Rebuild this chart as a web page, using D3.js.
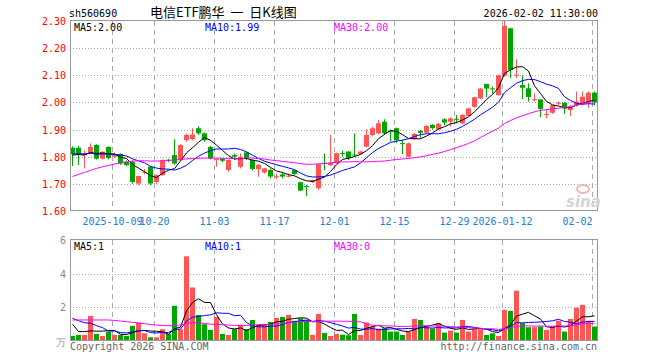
<!DOCTYPE html>
<html>
<head>
<meta charset="UTF-8">
<title>电信ETF鹏华 日K线图</title>
<style>
    body { margin: 0; background: #fff; }
    svg { display: block; }
    text { font-family: "DejaVu Sans Mono", monospace; font-size: 10px; }
</style>
</head>
<body>
<svg></svg>
<script src="https://d3js.org/d3.v7.min.js"></script>
<script>

// trading days shown
let dates = ["2025-09-22","2025-09-23","2025-09-24","2025-09-25","2025-09-26","2025-09-29","2025-09-30",
    "2025-10-09","2025-10-10","2025-10-13","2025-10-14","2025-10-15","2025-10-16","2025-10-17","2025-10-20",
    "2025-10-21","2025-10-22","2025-10-23","2025-10-24","2025-10-27","2025-10-28","2025-10-29","2025-10-30",
    "2025-10-31","2025-11-03","2025-11-04","2025-11-05","2025-11-06","2025-11-07","2025-11-10","2025-11-11",
    "2025-11-12","2025-11-13","2025-11-14","2025-11-17","2025-11-18","2025-11-19","2025-11-20","2025-11-21",
    "2025-11-24","2025-11-25","2025-11-26","2025-11-27","2025-11-28","2025-12-01","2025-12-02","2025-12-03",
    "2025-12-04","2025-12-05","2025-12-08","2025-12-09","2025-12-10","2025-12-11","2025-12-12","2025-12-15",
    "2025-12-16","2025-12-17","2025-12-18","2025-12-19","2025-12-22","2025-12-23","2025-12-24","2025-12-25",
    "2025-12-26","2025-12-29","2025-12-30","2025-12-31","2026-01-05","2026-01-06","2026-01-07","2026-01-08",
    "2026-01-09","2026-01-12","2026-01-13","2026-01-14","2026-01-15","2026-01-16","2026-01-19","2026-01-20",
    "2026-01-21","2026-01-22","2026-01-23","2026-01-26","2026-01-27","2026-01-28","2026-01-29","2026-01-30",
    "2026-02-02"];

let opens = [1.833,1.833,1.805,1.812,1.843,1.793,1.836,1.800,1.810,1.781,1.781,1.701,1.742,1.763,1.707,
    1.732,1.789,1.806,1.787,1.861,1.865,1.905,1.886,1.836,1.790,1.793,1.751,1.806,1.763,1.816,
    1.788,1.754,1.742,1.751,1.726,1.735,1.728,1.751,1.706,1.692,1.707,1.684,1.778,1.769,1.776,
    1.814,1.819,1.808,1.810,1.837,1.880,1.886,1.929,1.894,1.905,1.850,1.800,1.866,1.895,1.889,
    1.917,1.901,1.938,1.929,1.940,1.923,1.950,1.984,2.015,2.068,2.052,2.027,2.099,2.273,2.099,
    2.064,2.052,2.009,2.011,1.955,1.962,1.997,1.999,1.972,1.990,1.995,1.998,2.036];
let highs = [1.838,1.840,1.822,1.849,1.846,1.820,1.838,1.815,1.812,1.786,1.786,1.730,1.755,1.765,1.735,
    1.790,1.792,1.864,1.846,1.885,1.905,1.912,1.890,1.840,1.793,1.795,1.790,1.812,1.812,1.818,
    1.790,1.772,1.758,1.757,1.738,1.745,1.738,1.752,1.708,1.696,1.716,1.775,1.812,1.880,1.815,
    1.822,1.821,1.886,1.822,1.901,1.910,1.935,1.938,1.900,1.907,1.862,1.852,1.887,1.898,1.916,
    1.920,1.925,1.942,1.945,1.954,1.957,1.980,2.021,2.053,2.069,2.058,2.102,2.304,2.275,2.159,
    2.100,2.070,2.033,2.013,1.974,1.990,2.003,2.000,1.990,2.040,2.040,2.040,2.040];
let lows = [1.766,1.770,1.757,1.810,1.790,1.790,1.790,1.795,1.770,1.765,1.700,1.695,1.735,1.695,1.700,
    1.730,1.780,1.770,1.785,1.855,1.860,1.880,1.855,1.790,1.763,1.780,1.745,1.788,1.757,1.788,
    1.750,1.726,1.738,1.720,1.717,1.720,1.724,1.733,1.675,1.655,1.703,1.678,1.750,1.765,1.774,
    1.800,1.788,1.800,1.807,1.835,1.875,1.884,1.880,1.856,1.850,1.810,1.798,1.862,1.868,1.886,
    1.900,1.898,1.916,1.911,1.923,1.920,1.948,1.980,2.012,2.019,2.033,2.025,2.095,2.089,2.089,
    2.012,2.003,2.004,1.946,1.942,1.958,1.990,1.958,1.950,1.985,1.990,1.980,1.990];
let closes = [1.809,1.810,1.812,1.836,1.793,1.818,1.795,1.810,1.775,1.769,1.707,1.729,1.745,1.701,1.732,
    1.787,1.786,1.775,1.843,1.880,1.882,1.886,1.861,1.793,1.792,1.785,1.788,1.800,1.800,1.794,
    1.755,1.770,1.757,1.727,1.728,1.727,1.730,1.736,1.675,1.689,1.714,1.772,1.775,1.778,1.813,
    1.812,1.794,1.805,1.819,1.880,1.905,1.923,1.886,1.890,1.862,1.847,1.849,1.884,1.888,1.913,
    1.905,1.921,1.926,1.941,1.936,1.954,1.978,2.019,2.051,2.051,2.049,2.100,2.282,2.120,2.102,
    2.054,2.020,2.012,1.976,1.957,1.990,1.999,1.978,1.980,2.003,2.021,2.036,2.000];
// volume, 万手
let volumes = [0.30,0.36,0.36,1.49,0.42,0.30,0.56,0.36,0.36,0.30,0.90,1.10,0.46,0.22,0.22,
    0.70,0.42,2.09,0.70,5.03,3.18,1.55,1.00,0.66,1.43,0.42,0.36,0.70,0.96,0.70,
    1.25,0.96,0.96,1.13,1.37,1.43,1.55,1.20,1.35,1.25,0.36,1.61,0.48,0.30,0.42,
    0.38,0.34,1.61,0.36,1.10,0.86,0.74,0.76,0.56,0.56,0.36,0.56,1.31,1.25,0.86,
    0.74,1.06,0.50,0.62,0.50,1.25,0.56,0.70,0.70,0.36,0.46,0.30,1.85,1.79,2.99,
    1.06,0.82,0.82,0.86,0.66,0.86,1.20,0.56,1.31,1.98,2.15,1.20,0.86];

// days before the window, estimated from where MA5/MA10 start
let prevCloses = [1.80,1.82,1.81,1.83,1.81,1.80,1.82,1.79,1.811];
let prevVolumes = [1.8,1.6,1.7,1.9,1.5,2.56,0.36,1.29,0.49];
// MA30 for the first 29 days
let ma30Head = [1.727,1.735,1.742,1.750,1.757,1.763,1.768,1.773,1.777,1.781,1.784,1.785,1.785,1.784,1.784,
    1.785,1.786,1.788,1.790,1.792,1.793,1.794,1.795,1.795,1.795,1.794,1.794,1.793,1.792];
let volMa30Head = [1.25,1.25,1.25,1.25,1.25,1.25,1.25,1.22,1.19,1.15,1.11,1.07,1.03,0.98,0.95,
    0.92,0.90,0.92,0.95,1.05,1.10,1.08,1.05,1.00,0.99,0.97,0.95,0.93,0.92];

let tickDates = ["2025-10-09","2025-10-20","2025-11-03","2025-11-17","2025-12-01","2025-12-15","2025-12-29","2026-01-12","2026-02-02"];
let tickLabels = ["2025-10-09","10-20","11-03","11-17","12-01","12-15","12-29","2026-01-12","02-02"];
let priceTicks = [1.6,1.7,1.8,1.9,2.0,2.1,2.2,2.3];
let volTicks = [2,4,6];

let width = 660, height = 360;
let red = "#ff5555", green = "#00a600";

let svg = d3.select("svg").attr("width", width).attr("height", height);

let x = d3.scaleBand().domain(dates).range([70, 598]);
let y = d3.scaleLinear().domain([1.6, 2.3]).range([211, 21]);
let yv = d3.scaleLinear().domain([0, 6]).range([341, 240]);

function movingAvg(vals, prev, n) {
    let all = prev.concat(vals);
    return vals.map((v, i) => d3.mean(all.slice(i + prev.length - n + 1, i + prev.length + 1)));
}
function ma30(vals, head) {
    return vals.map((v, i) => i < head.length ? head[i] : d3.mean(vals.slice(i - 29, i + 1)));
}

let candles = dates.map((d, i) => ({date: d, o: opens[i], h: highs[i], l: lows[i], c: closes[i], v: volumes[i]}));

// grid
let grid = svg.append("g");
grid.selectAll(".hp").data(priceTicks.slice(1, -1)).enter().append("line")
    .attr("x1", 70).attr("x2", 597)
    .attr("y1", d => Math.round(y(d)) + 0.5).attr("y2", d => Math.round(y(d)) + 0.5)
    .attr("stroke", "#aaa").attr("stroke-dasharray", "1,2");
grid.selectAll(".hv").data(volTicks.slice(0, -1)).enter().append("line")
    .attr("x1", 70).attr("x2", 597)
    .attr("y1", d => Math.round(yv(d)) + 0.5).attr("y2", d => Math.round(yv(d)) + 0.5)
    .attr("stroke", "#aaa").attr("stroke-dasharray", "1,2");
tickDates.forEach(d => {
    let xx = x(d) + 0.5;
    grid.append("line").attr("x1", xx).attr("x2", xx).attr("y1", 21).attr("y2", 211)
        .attr("stroke", "#aaa").attr("stroke-dasharray", "5,4");
    grid.append("line").attr("x1", xx).attr("x2", xx).attr("y1", 240).attr("y2", 341)
        .attr("stroke", "#aaa").attr("stroke-dasharray", "5,4");
});

// candles
let cg = svg.append("g");
cg.selectAll(".wick").data(candles).enter().append("line")
    .attr("x1", d => x(d.date) + 2.5).attr("x2", d => x(d.date) + 2.5)
    .attr("y1", d => y(d.h)).attr("y2", d => y(d.l))
    .attr("stroke", d => d.c >= d.o ? red : green);
cg.selectAll(".body").data(candles).enter().append("rect")
    .attr("x", d => x(d.date)).attr("width", 5)
    .attr("y", d => y(Math.max(d.o, d.c)))
    .attr("height", d => Math.max(1, Math.abs(y(d.o) - y(d.c))))
    .attr("fill", d => d.c >= d.o ? red : green);

// volume bars
svg.append("g").selectAll("rect").data(candles).enter().append("rect")
    .attr("x", d => x(d.date)).attr("width", 5)
    .attr("y", d => yv(d.v)).attr("height", d => yv(0) - yv(d.v))
    .attr("fill", d => d.c >= d.o ? red : green);

// moving averages
let priceLines = [
    {vals: movingAvg(closes, prevCloses, 5), color: "#000"},
    {vals: movingAvg(closes, prevCloses, 10), color: "#0000ff"},
    {vals: ma30(closes, ma30Head), color: "#ff00ff"}
];
let volLines = [
    {vals: movingAvg(volumes, prevVolumes, 5), color: "#000"},
    {vals: movingAvg(volumes, prevVolumes, 10), color: "#0000ff"},
    {vals: ma30(volumes, volMa30Head), color: "#ff00ff"}
];
let pline = d3.line().x((d, i) => x(dates[i]) + 2.5).y(d => y(d));
let vline = d3.line().x((d, i) => x(dates[i]) + 2.5).y(d => yv(d));
priceLines.forEach(s => svg.append("path").attr("d", pline(s.vals))
    .attr("fill", "none").attr("stroke", s.color).attr("stroke-width", 1));
volLines.forEach(s => svg.append("path").attr("d", vline(s.vals))
    .attr("fill", "none").attr("stroke", s.color).attr("stroke-width", 1));

// frames
svg.append("rect").attr("x", 70.5).attr("y", 20.5).attr("width", 527).attr("height", 190)
    .attr("fill", "none").attr("stroke", "#999");
svg.append("rect").attr("x", 70.5).attr("y", 239.5).attr("width", 527).attr("height", 101)
    .attr("fill", "none").attr("stroke", "#999");

// axis labels
svg.append("g").selectAll("text").data(priceTicks).enter().append("text")
    .attr("x", 66).attr("y", d => y(d) + 4).attr("text-anchor", "end")
    .attr("fill", "#f00").text(d => d.toFixed(2));
svg.append("g").selectAll("text").data(volTicks).enter().append("text")
    .attr("x", 66).attr("y", d => yv(d) + 4).attr("text-anchor", "end")
    .attr("fill", "#888").text(d => d);
svg.append("text").attr("x", 66).attr("y", 346).attr("text-anchor", "end")
    .attr("fill", "#999").text("万");

tickDates.forEach((d, i) => {
    let cx = x(d) + 0.5;
    let w = tickLabels[i].length * 6.02;
    let t = svg.append("text").attr("y", 225).attr("fill", "#1a80d8").text(tickLabels[i]);
    if (cx + w / 2 > 593) t.attr("x", cx).attr("text-anchor", "end");
    else t.attr("x", cx).attr("text-anchor", "middle");
});

// header
svg.append("text").attr("x", 69).attr("y", 17).attr("fill", "#000").text("sh560690");
svg.append("text").attr("x", 150).attr("y", 17).attr("fill", "#000")
    .style("font-family", "'Noto Sans CJK SC', sans-serif").style("font-size", "13px")
    .style("white-space", "pre")
    .text("电信ETF鹏华  一  日K线图");
svg.append("text").attr("x", 598).attr("y", 17).attr("text-anchor", "end").attr("fill", "#000")
    .text("2026-02-02 11:30:00");

// legends
let legendP = [["MA5:2.00", "#000", 74], ["MA10:1.99", "#0000ff", 205], ["MA30:2.00", "#ff00ff", 334]];
let legendV = [["MA5:1", "#000", 74], ["MA10:1", "#0000ff", 205], ["MA30:0", "#ff00ff", 334]];
legendP.forEach(l => svg.append("text").attr("x", l[2]).attr("y", 31).attr("fill", l[1]).text(l[0]));
legendV.forEach(l => svg.append("text").attr("x", l[2]).attr("y", 250).attr("fill", l[1]).text(l[0]));

// watermark
svg.append("ellipse").attr("cx", 583).attr("cy", 189).attr("rx", 6).attr("ry", 4)
    .attr("fill", "none").attr("stroke", "#f2b8b8").attr("stroke-width", 2);
svg.append("text").attr("x", 566).attr("y", 207)
    .style("font-family", "'DejaVu Sans', sans-serif").style("font-size", "15px")
    .style("font-weight", "bold").style("font-style", "italic")
    .attr("fill", "#d4d4d4").text("sina");

// footer
svg.append("text").attr("x", 70).attr("y", 350).attr("fill", "#666").text("Copyright 2026 SINA.COM");
svg.append("text").attr("x", 597).attr("y", 350).attr("text-anchor", "end").attr("fill", "#666")
    .text("http://finance.sina.com.cn");

</script>
</body>
</html>
